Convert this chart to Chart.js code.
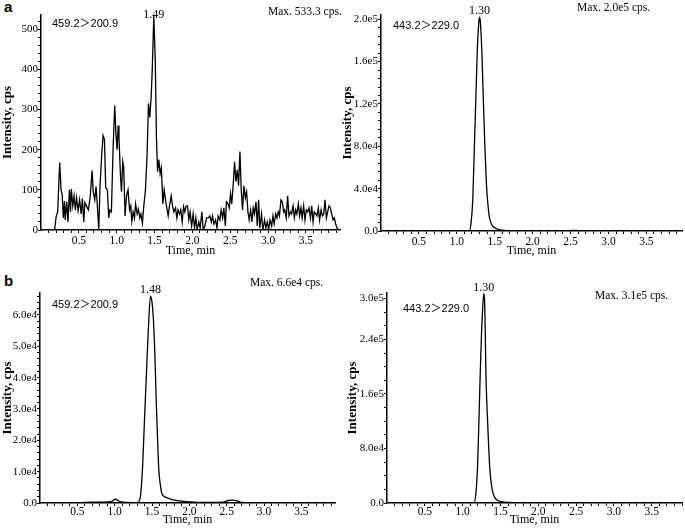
<!DOCTYPE html>
<html>
<head>
<meta charset="utf-8">
<script src="https://cdn.jsdelivr.net/npm/chart.js@4.4.1/dist/chart.umd.min.js"></script>
<style>
  body { margin: 0; width: 685px; height: 530px; position: relative; background: #fff; overflow: hidden; }
  canvas { position: absolute; }
  .tag { position: absolute; font: bold 15px "Liberation Sans", Arial, sans-serif; color: #000; }
</style>
</head>
<body>
<div class="tag" style="left:4px;top:-2px">a</div>
<div class="tag" style="left:4px;top:272px">b</div>
<canvas id="aLeft" width="342" height="262" style="left:0;top:0"></canvas>
<canvas id="aRight" width="345" height="262" style="left:340px;top:0"></canvas>
<canvas id="bLeft" width="340" height="262" style="left:0;top:268px"></canvas>
<canvas id="bRight" width="345" height="262" style="left:340px;top:268px"></canvas>
<script>
// x axis labels shared by all four panels (min)
const xTickLabels = [0.5, 1.0, 1.5, 2.0, 2.5, 3.0, 3.5];

// a, left: 459.2>200.9 (noisy trace)
const aLeftTime = [0.18, 0.20, 0.22, 0.247, 0.265, 0.28, 0.295, 0.31, 0.32, 0.34, 0.357, 0.375, 0.39, 0.40, 0.42, 0.437,
  0.454, 0.47, 0.49, 0.51, 0.53, 0.547, 0.565, 0.58, 0.60, 0.626, 0.65, 0.675, 0.69, 0.71, 0.727, 0.74, 0.763, 0.78,
  0.80, 0.82, 0.838, 0.855, 0.877, 0.895, 0.91, 0.93, 0.952, 0.974, 0.99, 1.005, 1.02, 1.03, 1.05, 1.063, 1.08, 1.093,
  1.11, 1.13, 1.15, 1.17, 1.186, 1.20, 1.217, 1.235, 1.25, 1.27, 1.287, 1.305, 1.32, 1.34, 1.358, 1.38, 1.40, 1.42,
  1.437, 1.455, 1.47, 1.49, 1.51, 1.525, 1.54, 1.556, 1.574, 1.59, 1.61, 1.627, 1.645, 1.662, 1.68, 1.697, 1.72, 1.737,
  1.755, 1.777, 1.795, 1.81, 1.83, 1.847, 1.865, 1.883, 1.90, 1.918, 1.935, 1.953, 1.97, 1.99, 2.01, 2.028, 2.046,
  2.063, 2.085, 2.103, 2.125, 2.143, 2.165, 2.187, 2.21, 2.23, 2.25, 2.266, 2.284, 2.306, 2.324, 2.34, 2.363, 2.38,
  2.40, 2.416, 2.435, 2.45, 2.47, 2.487, 2.504, 2.52, 2.54, 2.557, 2.575, 2.593, 2.61, 2.628, 2.645, 2.663, 2.68, 2.70,
  2.716, 2.734, 2.75, 2.77, 2.787, 2.804, 2.82, 2.84, 2.857, 2.875, 2.89, 2.914, 2.93, 2.954, 2.97, 2.99, 3.007, 3.025,
  3.047, 3.064, 3.08, 3.10, 3.117, 3.134, 3.15, 3.17, 3.188, 3.205, 3.22, 3.24, 3.258, 3.276, 3.294, 3.31, 3.33, 3.347,
  3.364, 3.38, 3.40, 3.417, 3.434, 3.45, 3.47, 3.487, 3.505, 3.523, 3.54, 3.56, 3.576, 3.594, 3.61, 3.63, 3.646, 3.664,
  3.68, 3.70, 3.717, 3.735, 3.752, 3.77, 3.787, 3.805, 3.823, 3.84, 3.858, 3.876, 3.893, 3.91, 3.93];
const aLeftCps = [0, 33, 45, 168, 100, 88, 30, 72, 25, 70, 20, 100, 45, 102, 60, 85,
  50, 80, 48, 75, 40, 78, 20, 68, 60, 50, 82, 148, 95, 75, 108, 75, 0, 110,
  180, 235, 225, 105, 100, 30, 50, 45, 200, 310, 240, 200, 260, 230, 135, 95, 170, 155,
  35, 85, 100, 50, 60, 22, 45, 30, 65, 40, 52, 30, 40, 17, 60, 100, 180, 315,
  280, 330, 400, 533, 420, 230, 145, 175, 140, 155, 65, 100, 75, 55, 35, 60, 85, 60,
  45, 55, 30, 50, 40, 50, 20, 58, 45, 60, 60, 25, 45, 10, 40, 5, 30,
  0, 20, 5, 45, 0, 10, 30, 30, 35, 20, 35, 15, 25, 5, 35, 25, 50,
  30, 55, 10, 70, 65, 55, 90, 65, 115, 170, 120, 150, 110, 195, 100, 50, 110, 80,
  95, 45, 25, 50, 20, 55, 40, 70, 10, 75, 5, 40, 0, 25, 5, 20, 0, 25,
  10, 35, 15, 40, 30, 45, 35, 75, 70, 45, 50, 30, 85, 35, 45, 40, 60, 30,
  50, 40, 65, 35, 55, 30, 60, 25, 50, 45, 55, 30, 60, 20, 45, 40, 35, 55,
  25, 50, 35, 40, 75, 30, 45, 60, 55, 40, 25, 30, 15, 5, 0];
const aLeftYTicks = [0, 100, 200, 300, 400, 500];

// a, right: 443.2>229.0
const aRightTime = [0.0, 1.00, 1.165, 1.19, 1.21, 1.23, 1.25, 1.27, 1.29, 1.30, 1.31, 1.33, 1.35, 1.37, 1.39, 1.41,
  1.43, 1.46, 1.50, 1.55, 1.62, 1.75, 2.40, 2.55, 2.70, 3.97];
const aRightCps = [0, 0, 0, 9000, 29000, 76000, 123000, 170000, 197000, 202000, 198000, 170000, 123000, 80000, 45000, 25000,
  13000, 6000, 3000, 1500, 600, 200, 150, 500, 150, 0];
const aRightYTicks = [0, 40000, 80000, 120000, 160000, 200000];

// b, left: 459.2>200.9
const bLeftTime = [0.0, 0.50, 0.70, 0.85, 0.95, 1.01, 1.07, 1.15, 1.30, 1.34, 1.37, 1.40, 1.43, 1.45, 1.48, 1.50,
  1.52, 1.54, 1.557, 1.575, 1.59, 1.61, 1.63, 1.67, 1.72, 1.80, 1.90, 2.00, 2.10, 2.45, 2.52, 2.58, 2.64, 2.70, 3.00, 3.95];
const bLeftCps = [0, 100, 250, 300, 450, 1200, 450, 200, 150, 1500, 10000, 27000, 44000, 55000, 66000, 64000,
  58000, 46000, 32000, 20000, 11000, 6000, 3200, 2000, 1500, 900, 600, 350, 200, 300, 800, 900, 700, 200, 100, 50];
const bLeftYTicks = [0, 10000, 20000, 30000, 40000, 50000, 60000];

// b, right: 443.2>229.0
const bRightTime = [0.0, 1.00, 1.15, 1.18, 1.20, 1.23, 1.25, 1.27, 1.28, 1.29, 1.31, 1.33, 1.36, 1.39, 1.42, 1.46,
  1.52, 1.60, 1.75, 3.90];
const bRightCps = [0, 0, 0, 20000, 62000, 180000, 250000, 295000, 307000, 298000, 180000, 120000, 49000, 20000, 9000, 4000,
  1800, 900, 300, 0];
const bRightYTicks = [0, 80000, 160000, 240000, 300000];

const SERIF = '"Liberation Serif", "Times New Roman", serif';
const SANS = '"Liberation Sans", Arial, "Noto Sans CJK SC", sans-serif';

function sciLabel(v) {
  if (v === 0) return "0.0";
  const e = Math.floor(Math.log10(v) + 1e-9);
  return (v / Math.pow(10, e)).toFixed(1) + "e" + e;
}

// texte du pic, "Max." et transition MRM
const overlayPlugin = {
  id: "overlay",
  afterDatasetsDraw(chart, args, o) {
    const ctx = chart.ctx;
    const pts = chart.data.datasets[0].data;
    let iMax = 0;
    pts.forEach((p, i) => { if (p.y > pts[iMax].y) iMax = i; });
    const el = chart.getDatasetMeta(0).data[iMax];
    ctx.save();
    ctx.fillStyle = "#000";
    ctx.font = "12px " + SERIF;
    ctx.textAlign = "center";
    ctx.textBaseline = "bottom";
    ctx.fillText(o.peak, el.x, Math.max(el.y, o.peakMinY));
    ctx.textAlign = "left";
    ctx.textBaseline = "middle";
    ctx.font = "11.5px " + SERIF;
    ctx.fillText(o.maxText, o.maxX, o.maxY);
    ctx.font = "11px " + SANS;
    ctx.fillText(o.mrm, o.mrmX, o.mrmY);
    ctx.restore();
  }
};

function makeChromatogram(id, p) {
  const data = p.time.map((t, i) => ({ x: t, y: p.cps[i] }));
  return new Chart(document.getElementById(id), {
    type: "line",
    data: {
      datasets: [{
        data,
        borderColor: "#000",
        borderWidth: 1.3,
        pointRadius: 0,
        cubicInterpolationMode: p.smooth ? "monotone" : "default",
        tension: 0,
        fill: false
      }]
    },
    plugins: [overlayPlugin],
    options: {
      responsive: false,
      animation: false,
      layout: { padding: { top: p.padTop, right: p.padRight, left: 0, bottom: 0 } },
      plugins: {
        legend: { display: false },
        tooltip: { enabled: false },
        overlay: p.text
      },
      scales: {
        x: {
          type: "linear",
          min: 0,
          max: p.xMax,
          afterFit: s => { s.height = p.xAxisH; },
          afterBuildTicks: s => {
            const t = [];
            for (let k = 1; k / 10 <= p.xMax; k++) t.push({ value: k / 10 });
            s.ticks = t;
          },
          grid: { drawOnChartArea: false, tickLength: 3, color: "#000", lineWidth: 1 },
          border: { color: "#000", width: 1.5 },
          ticks: {
            autoSkip: false,
            maxRotation: 0,
            padding: p.xTickPad,
            color: "#000",
            font: { family: SERIF, size: 11.5 },
            callback: v => xTickLabels.includes(Math.round(v * 10) / 10) ? v.toFixed(1) : ""
          },
          title: {
            display: true,
            text: "Time, min",
            color: "#000",
            font: { family: SERIF, size: 12 },
            padding: { top: 0, bottom: p.xTitlePad }
          }
        },
        y: {
          min: 0,
          max: p.yMax,
          afterFit: s => { s.width = p.yAxisW; },
          afterBuildTicks: s => {
            const t = [];
            for (let v = 0; v <= p.yMax + 1e-6; v += p.yMinor) t.push({ value: v });
            p.yTicks.forEach(v => { if (!t.some(k => Math.abs(k.value - v) < 1e-6)) t.push({ value: v }); });
            t.sort((a, b) => a.value - b.value);
            s.ticks = t;
          },
          grid: { drawOnChartArea: false, tickLength: 3, color: "#000", lineWidth: 1 },
          border: { color: "#000", width: 1.5 },
          ticks: {
            autoSkip: false,
            padding: 0,
            color: "#000",
            font: { family: SERIF, size: 11 },
            callback: v => {
              const hit = p.yTicks.find(m => Math.abs(m - v) < 1e-6);
              if (hit === undefined) return "";
              return p.sci ? sciLabel(hit) : String(hit);
            }
          },
          title: {
            display: true,
            text: "Intensity, cps",
            color: "#000",
            font: { family: SERIF, size: 13, weight: "bold" },
            padding: { top: p.yTitlePad, bottom: 0 }
          }
        }
      }
    }
  });
}

makeChromatogram("aLeft", {
  time: aLeftTime, cps: aLeftCps, yTicks: aLeftYTicks, sci: false, smooth: false,
  xMax: 3.95, yMax: 535, yMinor: 20,
  padTop: 15, padRight: 2, yAxisW: 41, xAxisH: 32, xTickPad: 1, xTitlePad: 4, yTitlePad: 0,
  text: { peak: "1.49", peakMinY: 21, maxText: "Max. 533.3 cps.", maxX: 268, maxY: 12, mrm: "459.2＞200.9", mrmX: 52, mrmY: 24 }
});

makeChromatogram("aRight", {
  time: aRightTime, cps: aRightCps, yTicks: aRightYTicks, sci: true, smooth: true,
  xMax: 3.97, yMax: 204000, yMinor: 8000,
  padTop: 15, padRight: 3, yAxisW: 41, xAxisH: 31, xTickPad: 1, xTitlePad: 4, yTitlePad: 0,
  text: { peak: "1.30", peakMinY: 0, maxText: "Max. 2.0e5 cps.", maxX: 237, maxY: 8, mrm: "443.2＞229.0", mrmX: 53, mrmY: 26 }
});

makeChromatogram("bLeft", {
  time: bLeftTime, cps: bLeftCps, yTicks: bLeftYTicks, sci: true, smooth: true,
  xMax: 3.95, yMax: 67000, yMinor: 2000,
  padTop: 25, padRight: 5, yAxisW: 40, xAxisH: 27, xTickPad: -1, xTitlePad: 3, yTitlePad: 0,
  text: { peak: "1.48", peakMinY: 0, maxText: "Max. 6.6e4 cps.", maxX: 250, maxY: 15, mrm: "459.2＞200.9", mrmX: 52, mrmY: 37 }
});

makeChromatogram("bRight", {
  time: bRightTime, cps: bRightCps, yTicks: bRightYTicks, sci: true, smooth: true,
  xMax: 3.90, yMax: 308000, yMinor: 20000,
  padTop: 25, padRight: 3, yAxisW: 47, xAxisH: 27, xTickPad: -1, xTitlePad: 3, yTitlePad: 5,
  text: { peak: "1.30", peakMinY: 0, maxText: "Max. 3.1e5 cps.", maxX: 255, maxY: 28, mrm: "443.2＞229.0", mrmX: 63, mrmY: 41 }
});
</script>
</body>
</html>
